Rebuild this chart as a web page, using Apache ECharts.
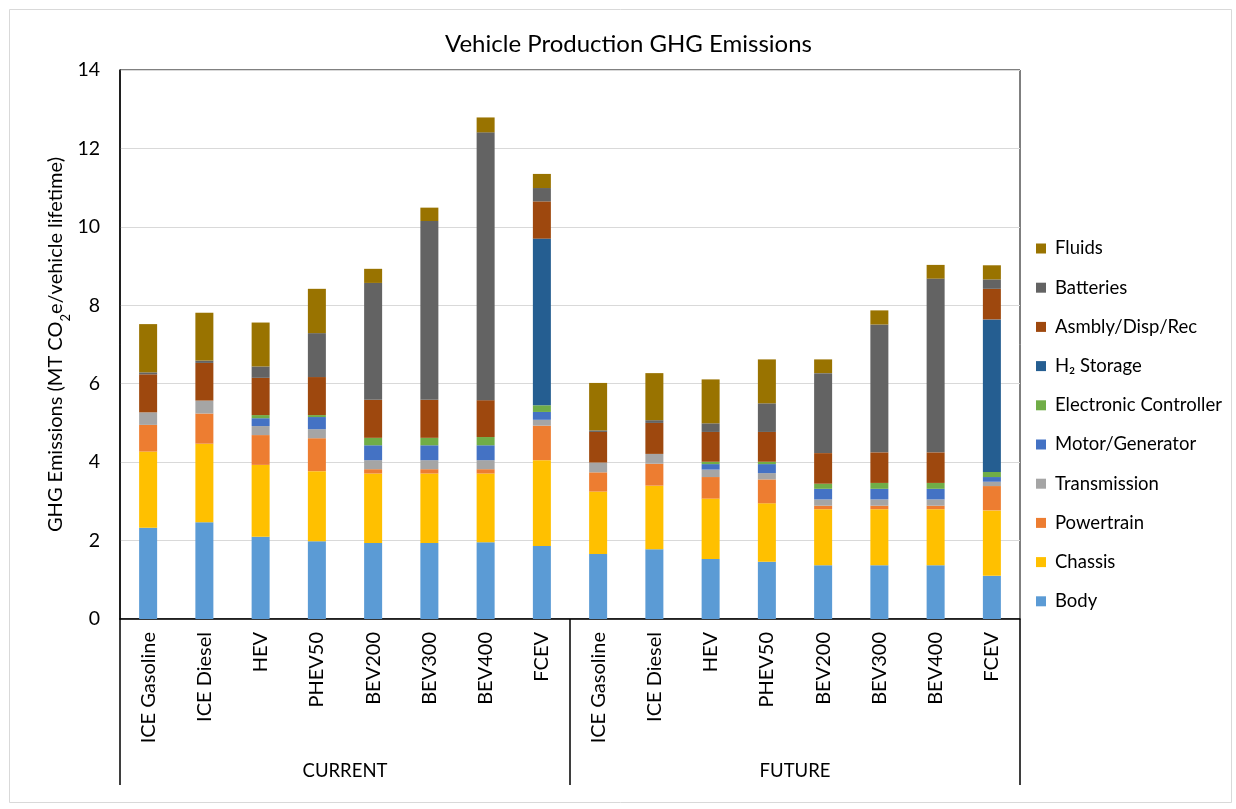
<!DOCTYPE html>
<html><head><meta charset="utf-8">
<script src="https://cdn.jsdelivr.net/npm/echarts@6/dist/echarts.min.js"></script>
<style>html,body{margin:0;padding:0;background:#fff}#c{width:1236px;height:809px}</style>
</head><body><div id="c"></div>
<script>
const categories = ['ICE Gasoline','ICE Diesel','HEV','PHEV50','BEV200','BEV300','BEV400','FCEV',
                    'ICE Gasoline','ICE Diesel','HEV','PHEV50','BEV200','BEV300','BEV400','FCEV'];
const groups = ['CURRENT','FUTURE'];
const yTicks = [0,2,4,6,8,10,12,14];

const body         = [2.33,2.47,2.10,1.98,1.94,1.94,1.96,1.86, 1.66,1.78,1.53,1.46,1.37,1.37,1.37,1.10];
const chassis      = [1.94,2.00,1.83,1.79,1.77,1.77,1.75,2.19, 1.59,1.62,1.54,1.49,1.43,1.43,1.43,1.67];
const powertrain   = [0.68,0.77,0.76,0.84,0.11,0.11,0.11,0.88, 0.49,0.56,0.55,0.61,0.09,0.09,0.09,0.62];
const transmission = [0.32,0.33,0.23,0.23,0.23,0.23,0.23,0.15, 0.25,0.25,0.19,0.16,0.16,0.16,0.16,0.11];
const motorGen     = [0,0,0.20,0.31,0.38,0.38,0.38,0.20, 0,0,0.14,0.23,0.27,0.27,0.27,0.12];
const electronic   = [0,0,0.08,0.05,0.19,0.19,0.21,0.17, 0,0,0.06,0.06,0.13,0.15,0.15,0.13];
const h2Storage    = [0,0,0,0,0,0,0,4.25, 0,0,0,0,0,0,0,3.89];
const asmbly       = [0.97,0.96,0.95,0.97,0.97,0.97,0.94,0.95, 0.78,0.79,0.76,0.76,0.78,0.78,0.78,0.78];
const batteries    = [0.05,0.06,0.29,1.12,2.98,4.56,6.83,0.34, 0.04,0.07,0.22,0.73,2.04,3.26,4.43,0.24];
const fluids       = [1.23,1.22,1.12,1.13,0.36,0.34,0.38,0.36, 1.21,1.20,1.12,1.12,0.35,0.36,0.35,0.36];

const seriesNames = ['Body','Chassis','Powertrain','Transmission','Motor/Generator','Electronic Controller','H\u2082 Storage','Asmbly/Disp/Rec','Batteries','Fluids'];
const seriesData = [body,chassis,powertrain,transmission,motorGen,electronic,h2Storage,asmbly,batteries,fluids];
const colors = ['#5B9BD5','#FFC000','#ED7D31','#A5A5A5','#4472C4','#70AD47','#255E91','#9E480E','#636363','#997300'];

const FONT = 'Lato';
const chart = echarts.init(document.getElementById('c'));
chart.setOption({
  animation: false,
  backgroundColor: '#fff',
  color: colors,
  textStyle: {fontFamily: FONT, color: '#000'},
  title: {
    text: 'Vehicle Production GHG Emissions',
    left: 440, top: 27,
    textStyle: {fontFamily: FONT, fontSize: 24, fontWeight: 'normal', color: '#000'}
  },
  graphic: [{type:'rect', left:7, top:7, z:-10, shape:{width:1222, height:793}, style:{fill:'none', stroke:'#d9d9d9', lineWidth:1}}],
  legend: {
    orient: 'vertical', left: 1036, top: 239, padding: 0,
    itemWidth: 10, itemHeight: 10, itemGap: 20.2,
    icon: 'rect',
    data: seriesNames.slice().reverse(),
    textStyle: {fontFamily: FONT, fontSize: 18.5, color: '#000', padding: [0,0,0,4]}
  },
  grid: {left: 120, right: 216, top: 70, bottom: 190, show: true, borderColor: '#000', borderWidth: 1},
  xAxis: [{
    type: 'category', data: categories, position: 'bottom',
    axisLine: {show: true, lineStyle: {color: '#000', width: 1.5}},
    axisTick: {show: false},
    axisLabel: {rotate: 90, interval: 0, margin: 13, fontSize: 20, color: '#000', fontFamily: FONT}
  }, {
    type: 'category', data: groups, position: 'bottom', offset: 0,
    axisLine: {show: false},
    axisTick: {show: true, length: 166, lineStyle: {color: '#000', width: 1.5}},
    axisLabel: {margin: 143, fontSize: 18.5, color: '#000', fontFamily: FONT},
    splitLine: {show: false}
  }],
  yAxis: {
    type: 'value', min: yTicks[0], max: yTicks[yTicks.length-1], interval: 2,
    axisLine: {show: true, lineStyle: {color: '#000', width: 1.5}},
    axisTick: {show: false},
    splitLine: {lineStyle: {color: '#d9d9d9', width: 1}},
    axisLabel: {margin: 20, fontSize: 19.5, color: '#000', fontFamily: FONT},
    name: '{a|GHG Emissions (MT CO}{s|2}{a|e/vehicle lifetime)}',
    nameLocation: 'middle', nameRotate: 90, nameGap: 54, nameMoveOverlap: false,
    nameTextStyle: {
      rich: {
        a: {fontSize: 20, fontFamily: FONT, color: '#000'},
        s: {fontSize: 13, fontFamily: FONT, color: '#000', verticalAlign: 'bottom', padding: [0,0,-6,0]}
      }
    }
  },
  series: seriesNames.map((n,i) => ({
    name: n, type: 'bar', stack: 'total', barWidth: 18,
    data: seriesData[i], itemStyle: {color: colors[i]}
  }))
});
</script></body></html>
